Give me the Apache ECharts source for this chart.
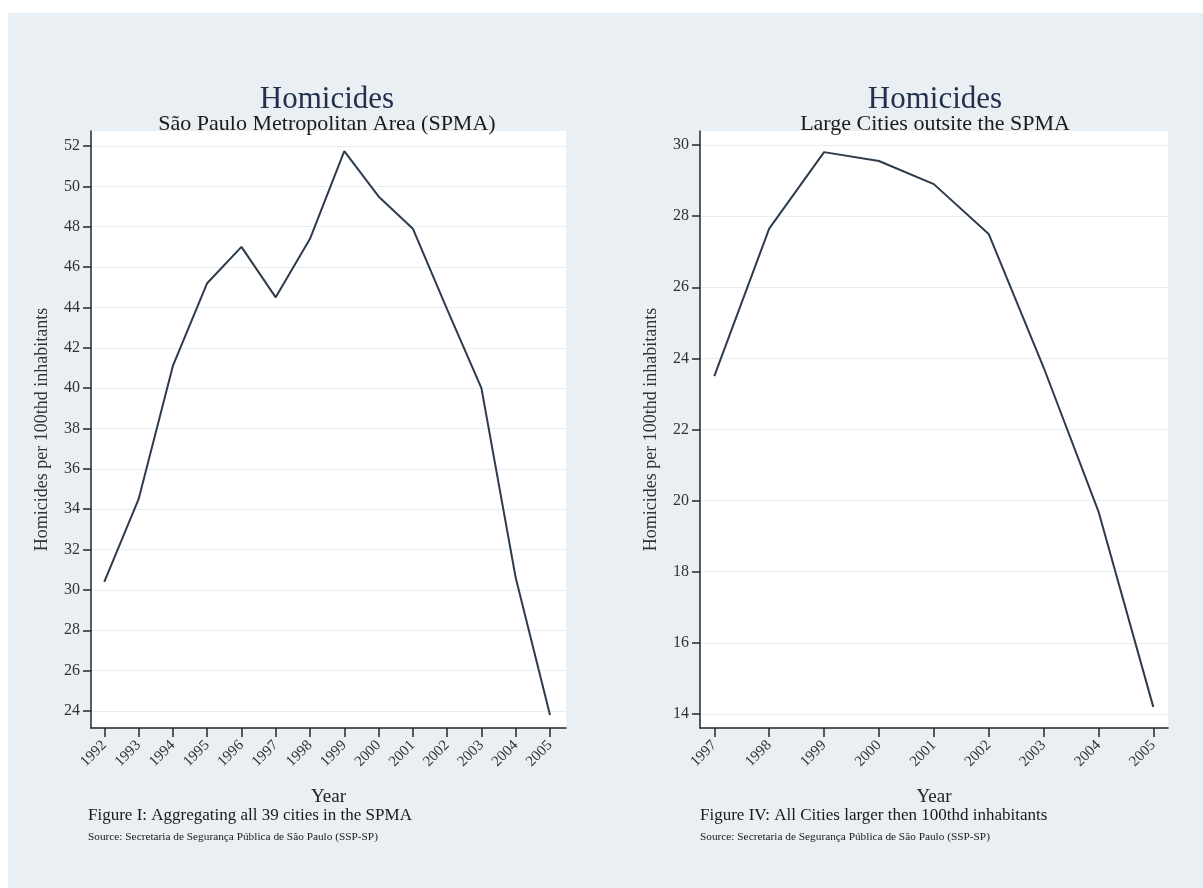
<!DOCTYPE html>
<html>
<head>
<meta charset="utf-8">
<title>Homicides</title>
<script src="https://cdn.jsdelivr.net/npm/echarts@6/dist/echarts.min.js"></script>
<style>
  html, body { margin: 0; padding: 0; background: #ffffff; }
  #chart { width: 1203px; height: 888px; }
</style>
</head>
<body>
<div id="chart"></div>
<script>
// São Paulo Metropolitan Area, homicides per 100 thousand inhabitants
const spmaYears = [1992, 1993, 1994, 1995, 1996, 1997, 1998, 1999, 2000, 2001, 2002, 2003, 2004, 2005];
const spmaRates = [30.4, 34.5, 41.1, 45.2, 47.0, 44.5, 47.4, 51.75, 49.5, 47.9, 43.9, 40.0, 30.6, 23.8];
const spmaTicks = [24, 26, 28, 30, 32, 34, 36, 38, 40, 42, 44, 46, 48, 50, 52];

// Large cities outside the SPMA
const largeYears = [1997, 1998, 1999, 2000, 2001, 2002, 2003, 2004, 2005];
const largeRates = [23.5, 27.65, 29.8, 29.55, 28.9, 27.5, 23.75, 19.7, 14.2];
const largeTicks = [14, 16, 18, 20, 22, 24, 26, 28, 30];

const SERIF = "'Liberation Serif', 'Times New Roman', serif";
const AXIS_COLOR = '#262626';
const LABEL_COLOR = '#333333';
const LINE_COLOR = '#2e3b4b';

function pairs(xs, ys) {
  return xs.map((x, i) => [x, ys[i]]);
}

function xAxisFor(gridIndex, years, min, max) {
  return {
    gridIndex, type: 'value', min, max,
    name: 'Year', nameLocation: 'middle', nameGap: 60,
    nameTextStyle: { fontFamily: SERIF, fontSize: 19, color: '#222' },
    axisLine: { show: true, onZero: false, lineStyle: { color: AXIS_COLOR, width: 1.5 } },
    axisTick: { show: true, customValues: years, length: 9, lineStyle: { color: AXIS_COLOR, width: 1.5 } },
    axisLabel: {
      customValues: years, rotate: 45, margin: 15,
      fontFamily: SERIF, fontSize: 15, color: LABEL_COLOR,
      formatter: v => String(Math.round(v))
    },
    splitLine: { show: false }
  };
}

function yAxisFor(gridIndex, ticks, min, max) {
  return {
    gridIndex, type: 'value', min, max,
    name: 'Homicides per 100thd inhabitants', nameLocation: 'middle', nameGap: 40,
    nameTextStyle: { fontFamily: SERIF, fontSize: 18, color: '#333' },
    axisLine: { show: true, onZero: false, lineStyle: { color: AXIS_COLOR, width: 1.5 } },
    axisTick: { show: true, customValues: ticks, length: 8, lineStyle: { color: AXIS_COLOR, width: 1.5 } },
    axisLabel: {
      customValues: ticks, margin: 11,
      fontFamily: SERIF, fontSize: 16, color: LABEL_COLOR,
      formatter: v => String(Math.round(v))
    },
    splitLine: { show: true, lineStyle: { color: '#e8ecee', width: 1 } }
  };
}

function text(x, y, str, size, color, align) {
  return {
    type: 'text', silent: true,
    style: {
      x, y, text: str, fill: color,
      font: size + 'px ' + SERIF,
      textAlign: align || 'center', textVerticalAlign: 'middle'
    }
  };
}

const chart = echarts.init(document.getElementById('chart'), null, { renderer: 'canvas' });

chart.setOption({
  backgroundColor: '#ffffff',
  animation: false,
  graphic: [
    // light panel behind both figures
    { type: 'rect', z: -10, silent: true, shape: { x: 8, y: 13, width: 1195, height: 875 }, style: { fill: '#e9eff2' } },
    text(327, 100, 'Homicides', 31, '#23304d'),
    text(327, 124, 'São Paulo Metropolitan Area (SPMA)', 22, '#1a1a1a'),
    text(935, 100, 'Homicides', 31, '#23304d'),
    text(935, 124, 'Large Cities outsite the SPMA', 22, '#1a1a1a'),
    text(88, 816, 'Figure I: Aggregating all 39 cities in the SPMA', 17, '#1a1a1a', 'left'),
    text(88, 837, 'Source: Secretaria de Segurança Pública de São Paulo (SSP-SP)', 11.3, '#1a1a1a', 'left'),
    text(700, 816, 'Figure IV: All Cities larger then 100thd inhabitants', 17, '#1a1a1a', 'left'),
    text(700, 837, 'Source: Secretaria de Segurança Pública de São Paulo (SSP-SP)', 11.3, '#1a1a1a', 'left')
  ],
  grid: [
    { left: 91, top: 131, width: 475, height: 597, show: true, backgroundColor: '#ffffff', borderWidth: 0 },
    { left: 700, top: 131, width: 468, height: 597, show: true, backgroundColor: '#ffffff', borderWidth: 0 }
  ],
  xAxis: [
    xAxisFor(0, spmaYears, 1991.612, 2005.467),
    xAxisFor(1, largeYears, 1996.739, 2005.268)
  ],
  yAxis: [
    yAxisFor(0, spmaTicks, 23.158, 52.743),
    yAxisFor(1, largeTicks, 13.606, 30.394)
  ],
  series: [
    {
      name: 'SPMA', type: 'line', xAxisIndex: 0, yAxisIndex: 0,
      data: pairs(spmaYears, spmaRates), symbol: 'none', smooth: false,
      lineStyle: { color: LINE_COLOR, width: 2 }
    },
    {
      name: 'Large cities', type: 'line', xAxisIndex: 1, yAxisIndex: 1,
      data: pairs(largeYears, largeRates), symbol: 'none', smooth: false,
      lineStyle: { color: LINE_COLOR, width: 2 }
    }
  ]
});
</script>
</body>
</html>
